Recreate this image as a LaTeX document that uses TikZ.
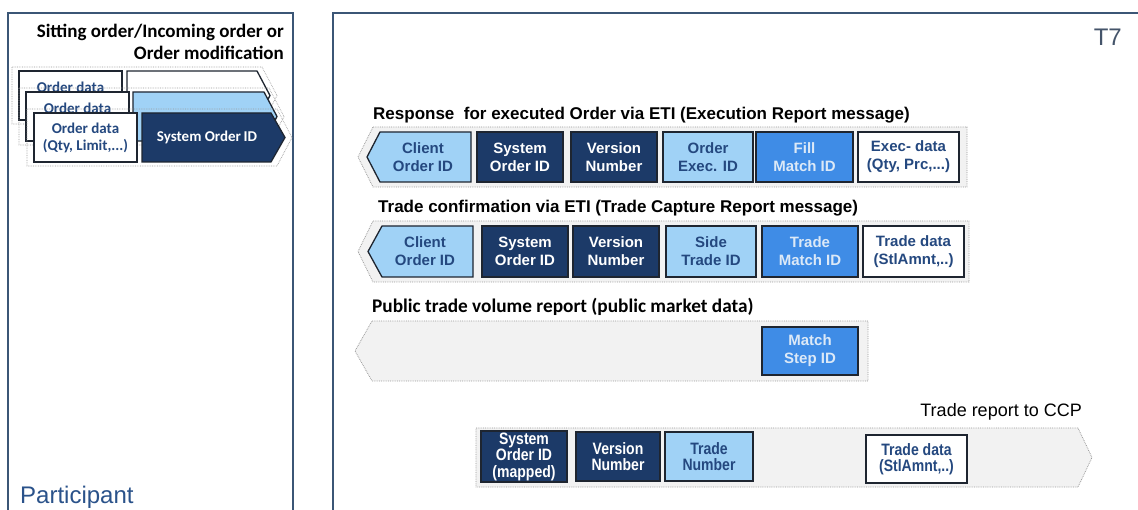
\documentclass[tikz,border=0pt]{standalone}
\usepackage{fontspec}
\setmainfont{Liberation Sans}
\newfontfamily\calfont{Carlito}
\newfontfamily\narrowfont[FakeStretch=0.85]{Liberation Sans}
\definecolor{navy}{HTML}{1C3A68}
\definecolor{lightblue}{HTML}{A0D2F6}
\definecolor{midblue}{HTML}{3F8CE6}
\definecolor{txtdark}{HTML}{24487F}
\definecolor{txtlight}{HTML}{DCE9F7}
\definecolor{envfill}{HTML}{F2F2F2}
\definecolor{envline}{HTML}{9A9A9A}
\definecolor{frame}{HTML}{3B5676}
\definecolor{boxline}{HTML}{1E2530}
\definecolor{tseven}{HTML}{44546A}
\definecolor{partic}{HTML}{2A528A}
\begin{document}
\begin{tikzpicture}[x=1pt,y=-1pt,
  panel/.style={draw=frame,line width=2pt},
  envelope/.style={draw=envline,fill=envfill,densely dotted,line width=0.8pt},
  envline/.style={draw=envline,densely dotted,line width=0.7pt},
  shp/.style={draw=boxline,line width=1.3pt},
  fnavy/.style={shp,fill=navy},
  flight/.style={shp,fill=lightblue},
  fmid/.style={shp,fill=midblue},
  fwhite/.style={shp,fill=white},
  lbl/.style={align=center,font=\bfseries\fontsize{15}{18}\selectfont,inner sep=0pt},
  onnavy/.style={lbl,text=white},
  onlight/.style={lbl,text=txtdark},
  onmid/.style={lbl,text=txtlight},
  lftlbl/.style={align=center,font=\calfont\bfseries\fontsize{15}{17}\selectfont,inner sep=0pt,text=txtdark},
  narrowlbl/.style={align=center,font=\narrowfont\bfseries\fontsize{16.5}{16.5}\selectfont,inner sep=0pt},
  rowtitle/.style={anchor=west,inner sep=0pt,font=\bfseries\fontsize{17}{20}\selectfont},
]
\useasboundingbox (0,0) rectangle (1138,510);
\clip (0,0) rectangle (1138,510);
\fill[white] (0,0) rectangle (1138,510);

% panels
\draw[panel] (8,13) rectangle (293,520);
\draw[panel] (333,13) rectangle (1160,520);

% left title
\node[anchor=east,inner sep=0pt,font=\calfont\bfseries\fontsize{19}{22}\selectfont] (lt1) at (284,32) {Sitting order/Incoming order or};
\node[anchor=east,inner sep=0pt,font=\calfont\bfseries\fontsize{19}{22}\selectfont] (lt2) at (284,53) {Order modification};

% left layers
% layer 1
\draw[envline] (12,67) -- (262,67) -- (277,95.5) -- (262,124) -- (12,124) -- cycle;
\draw[fwhite] (19,71) rectangle (122,120);
\draw[fwhite] (127,71) -- (257,71) -- (270,95.5) -- (257,120) -- (127,120) -- cycle;
\node[lftlbl] (l1) at (70.5,87) {Order data};
% layer 2
\draw[envline] (19,88) -- (269,88) -- (284,116.5) -- (269,145) -- (19,145) -- cycle;
\draw[fwhite] (26,92) rectangle (129,141);
\draw[flight] (133,92) -- (264,92) -- (277,116.5) -- (264,141) -- (133,141) -- cycle;
\node[lftlbl] (l2) at (77.5,108) {Order data};
% layer 3
\draw[envline] (27,109) -- (277,109) -- (292,137.5) -- (277,166) -- (27,166) -- cycle;
\draw[fwhite] (34,113) rectangle (137,162);
\draw[fnavy] (142,113) -- (271,113) -- (285,137.5) -- (271,162) -- (142,162) -- cycle;
\node[lftlbl] (l3) at (85.5,137.5) {Order data\\(Qty, Limit,...)};
\node[lftlbl,text=white] (l3s) at (207,137.5) {System Order\,ID};

% T7
\node[anchor=east,inner sep=0pt,text=tseven,font=\fontsize{24}{28}\selectfont] (t7) at (1122,37) {T7};
% Participant
\node[anchor=base west,inner sep=0pt,text=partic,font=\fontsize{24}{28}\selectfont] (part) at (20,503) {Participant};

% Row 1
\node[rowtitle] (r1t) at (373,115) {Response\ \ for executed Order via ETI (Execution Report message)};
\draw[envelope] (373,127) -- (967,127) -- (967,187) -- (373,187) -- (358,157) -- cycle;
\draw[flight] (380,132) -- (471,132) -- (471,182) -- (380,182) -- (367,157) -- cycle;
\node[onlight] (r1a) at (423,157) {Client\\Order ID};
\draw[fnavy] (477,132) rectangle (563,182);
\node[onnavy] (r1b) at (520,157) {System\\Order ID};
\draw[fnavy] (571,132) rectangle (657,182);
\node[onnavy] (r1c) at (614,157) {Version\\Number};
\draw[flight] (663,132) rectangle (753,182);
\node[onlight] (r1d) at (708,157) {Order\\Exec. ID};
\draw[fmid] (756,132) rectangle (853,182);
\node[onmid] (r1e) at (804.5,157) {Fill\\Match ID};
\draw[fwhite] (858,132) rectangle (959,182);
\node[onlight] (r1f) at (908.5,157) {Exec- data\\(Qty, Prc,...)};

% Row 2
\node[rowtitle] (r2t) at (378,208) {Trade confirmation via ETI (Trade Capture Report message)};
\draw[envelope] (373,221) -- (969,221) -- (969,282) -- (373,282) -- (358,251.5) -- cycle;
\draw[flight] (382,226) -- (473,226) -- (473,277) -- (382,277) -- (368,251.5) -- cycle;
\node[onlight] (r2a) at (425,251.5) {Client\\Order ID};
\draw[fnavy] (482,226) rectangle (568,277);
\node[onnavy] (r2b) at (525,251.5) {System\\Order ID};
\draw[fnavy] (573,226) rectangle (659,277);
\node[onnavy] (r2c) at (616,251.5) {Version\\Number};
\draw[flight] (666,226) rectangle (756,277);
\node[onlight] (r2d) at (711,251.5) {Side\\Trade ID};
\draw[fmid] (762,226) rectangle (858,277);
\node[onmid] (r2e) at (810,251.5) {Trade\\Match ID};
\draw[fwhite] (863,226) rectangle (964,277);
\node[onlight] (r2f) at (913.5,251.5) {Trade data\\(StlAmnt,..)};

% Row 3
\node[anchor=west,inner sep=0pt,font=\calfont\bfseries\fontsize{19.3}{22}\selectfont] (r3t) at (372,307) {Public trade volume report (public market data)};
\draw[envelope] (372,321) -- (868,321) -- (868,381) -- (372,381) -- (355,351) -- cycle;
\draw[fmid] (762,327) rectangle (858,375);
\node[onmid] (r3a) at (810,351) {Match\\Step ID};

% Row 4
\node[anchor=east,inner sep=0pt,font=\fontsize{18}{21}\selectfont] (r4t) at (1082,412) {Trade report to CCP};
\draw[envelope] (476,428) -- (1078,428) -- (1092,457.5) -- (1078,487) -- (476,487) -- cycle;
\draw[fnavy] (481,431) rectangle (567,482);
\node[narrowlbl,text=white] (r4a) at (524,456.5) {System\\Order ID\\(mapped)};
\draw[fnavy] (576,432) rectangle (660,481);
\node[narrowlbl,text=white] (r4b) at (618,456.5) {Version\\Number};
\draw[flight] (665,432) rectangle (753,481);
\node[narrowlbl,text=txtdark] (r4c) at (709,456.5) {Trade\\Number};
\draw[fwhite] (866,435) rectangle (967,483);
\node[narrowlbl,text=txtdark] (r4d) at (916.5,459) {Trade data\\(StlAmnt,..)};
\end{tikzpicture}
\end{document}
